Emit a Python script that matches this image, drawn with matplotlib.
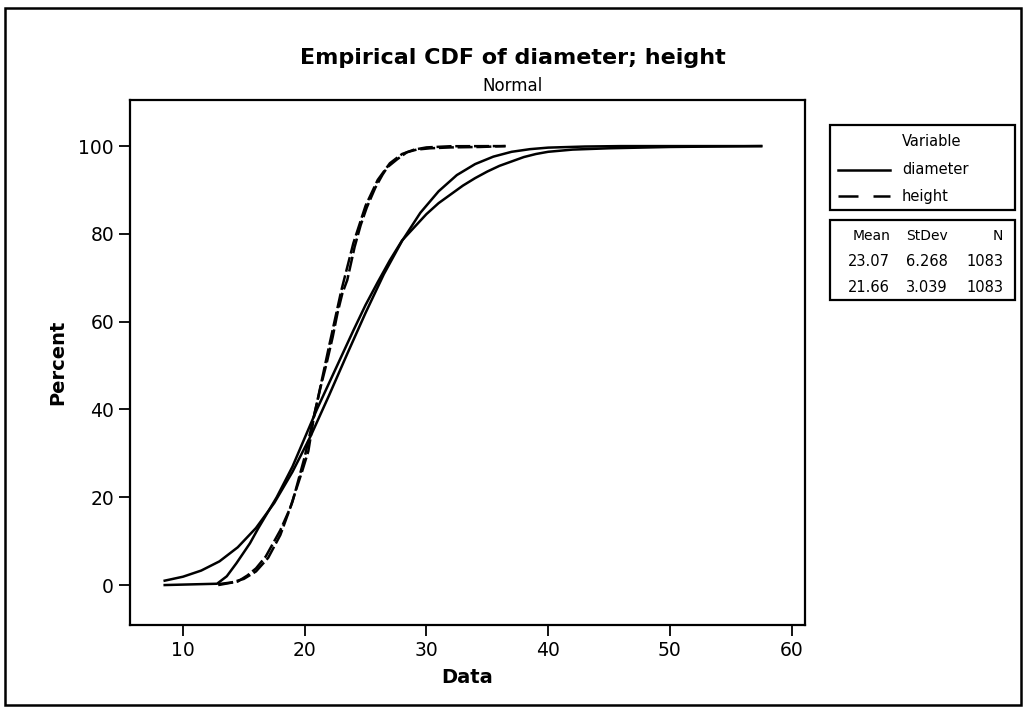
import matplotlib
matplotlib.use("Agg")
import matplotlib.pyplot as plt
from matplotlib.patches import Rectangle
from matplotlib.lines import Line2D

# values (Data, Percent)
diam_emp_x = [8.5, 12.8, 13.6, 14.4, 15.5, 16.2, 17.7, 19.0, 20.0, 21.0, 22.0, 23.0, 24.0, 25.0,
              26.0, 27.0, 28.0, 29.0, 30.0, 31.0, 32.0, 33.0, 34.0, 35.0, 36.0, 37.0, 38.0, 39.0,
              40.0, 42.0, 45.0, 50.0, 57.5]
diam_emp_y = [0.0, 0.3, 2.0, 5.0, 9.5, 13.0, 20.0, 27.0, 33.5, 40.0, 46.0, 52.0, 58.0, 63.8,
              69.0, 74.0, 78.5, 81.5, 84.5, 87.0, 89.0, 91.0, 92.7, 94.2, 95.5, 96.5, 97.5, 98.2,
              98.7, 99.2, 99.5, 99.8, 100.0]

diam_fit_x = [8.5, 10.0, 11.5, 13.0, 14.5, 16.0, 17.5, 19.0, 20.5, 22.0, 23.5, 25.0, 26.5, 28.0,
              29.5, 31.0, 32.5, 34.0, 35.5, 37.0, 38.5, 40.0, 43.0, 46.0, 57.5]
diam_fit_y = [1.0, 1.9, 3.3, 5.4, 8.6, 13.0, 18.7, 25.8, 34.0, 43.2, 52.7, 62.0, 70.8, 78.4,
              84.8, 89.7, 93.4, 95.9, 97.6, 98.7, 99.3, 99.65, 99.9, 100.0, 100.0]

height_emp_x = [12.9, 13.5, 14.5, 15.3, 16.0, 16.8, 17.4, 18.0, 18.8, 19.8, 20.3, 20.8, 21.3,
                21.8, 22.3, 22.7, 23.1, 23.5, 24.1, 24.6, 25.1, 25.8, 26.4, 26.8, 27.6, 28.4,
                29.2, 30.3, 32.0, 34.4, 36.5]
height_emp_y = [0.0, 0.3, 0.8, 2.2, 3.8, 6.5, 9.5, 12.5, 17.5, 26.0, 30.5, 39.0, 45.0,
                50.5, 56.5, 62.0, 66.5, 69.5, 77.0, 82.0, 86.0, 90.5, 93.5, 95.2, 97.0, 98.6,
                99.2, 99.5, 99.7, 99.8, 100.0]

height_fit_x = [12.9, 14.0, 15.0, 16.0, 17.0, 18.0, 19.0, 20.0, 21.0, 22.0, 23.0, 24.0, 25.0,
                26.0, 27.0, 28.0, 29.0, 30.0, 32.0, 36.5]
height_fit_y = [0.2, 0.6, 1.4, 3.1, 6.2, 11.4, 19.0, 29.2, 41.4, 54.4, 67.0, 77.9, 86.4,
                92.3, 96.1, 98.2, 99.2, 99.7, 99.97, 100.0]

variables = ["diameter", "height"]
stat_header = ["Mean", "StDev", "N"]
stat_rows = [["23.07", "6.268", "1083"], ["21.66", "3.039", "1083"]]
x_ticks = [10, 20, 30, 40, 50, 60]
y_ticks = [0, 20, 40, 60, 80, 100]

W, H = 1026, 710
fig = plt.figure(figsize=(W / 100, H / 100), dpi=100)

def fx(px):
    return px / W

def fy(py):
    return 1 - py / H

ax = fig.add_axes([fx(130), fy(625), fx(805) - fx(130), fy(100) - fy(625)])
lw = 1.8
dash = (6, 1.5)
ax.plot(diam_emp_x, diam_emp_y, color="black", lw=lw)
ax.plot(diam_fit_x, diam_fit_y, color="black", lw=lw)
ax.plot(height_emp_x, height_emp_y, color="black", lw=lw, dashes=dash)
ax.plot(height_fit_x, height_fit_y, color="black", lw=lw, dashes=dash)

ax.set_xlim(5.65, 61.1)
ax.set_ylim(-9.1, 110.5)
ax.set_xticks(x_ticks)
ax.set_yticks(y_ticks)
ax.tick_params(direction="out", length=8, width=1.3, labelsize=13.5, top=False, right=False)
for s in ax.spines.values():
    s.set_linewidth(1.6)
ax.set_xlabel("Data", fontsize=14, fontweight="bold", labelpad=6)
ax.set_ylabel("Percent", fontsize=14, fontweight="bold", labelpad=8)

fig.text(0.5, fy(58), "Empirical CDF of diameter; height", ha="center", va="center",
         fontsize=16, fontweight="bold")
fig.text(0.5, fy(86), "Normal", ha="center", va="center", fontsize=12)

# legend box
fig.patches.append(Rectangle((fx(830), fy(210)), fx(1015) - fx(830), fy(125) - fy(210),
                             transform=fig.transFigure, fill=False, lw=1.6, ec="black"))
fig.text(fx(902), fy(142), "Variable", ha="left", va="center", fontsize=10.5)
styles = ["-", "--"]
rows_y = [170, 196]
for name, st, ry in zip(variables, styles, rows_y):
    ln = Line2D([fx(838), fx(890)], [fy(ry), fy(ry)], transform=fig.transFigure,
                color="black", lw=lw)
    if st == "--":
        ln.set_dashes((8, 6))
    fig.lines.append(ln)
    fig.text(fx(902), fy(ry), name, ha="left", va="center", fontsize=10.5)

# stats box
fig.patches.append(Rectangle((fx(830), fy(300)), fx(1015) - fx(830), fy(220) - fy(300),
                             transform=fig.transFigure, fill=False, lw=1.6, ec="black"))
col_x = [890, 948, 1003]
for cx, h in zip(col_x, stat_header):
    fig.text(fx(cx), fy(236), h, ha="right", va="center", fontsize=10)
for ry, row in zip([262, 288], stat_rows):
    for cx, v in zip(col_x, row):
        fig.text(fx(cx), fy(ry), v, ha="right", va="center", fontsize=10.5)

# outer frame
fig.patches.append(Rectangle((fx(5), fy(705)), fx(1021) - fx(5), fy(8) - fy(705),
                             transform=fig.transFigure, fill=False, lw=1.8, ec="black"))

fig.savefig("out.png", dpi=100)
